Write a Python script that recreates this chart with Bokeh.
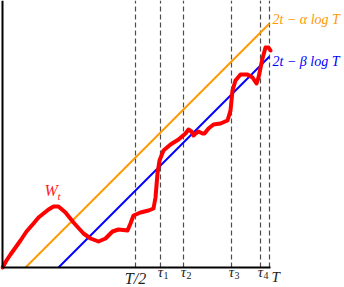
from bokeh.plotting import figure
from bokeh.models import Range1d
from bokeh.core.properties import value
from bokeh.embed import file_html
from bokeh.resources import INLINE

# ---- data (units: time axis 0..T, level axis same units) ----
T_END = 267
TOP = 267
HALF_LABEL = "T/2"
HALF_T = 133
TAU_SUBS = ["1", "2", "3", "4"]
TAU_T = [158, 181, 229, 258]
ALPHA_SHIFT = 23
BETA_SHIFT = 56

W_T = [0, 4, 8, 13, 18, 24, 31, 36, 41, 46, 51, 56, 63, 71, 81, 88, 96, 103, 110, 116, 125, 128, 131,
       138, 146, 151, 153, 155, 157, 161, 168, 176, 183, 186, 189, 191, 193, 196,
       200, 202, 206, 211, 218, 225, 228, 230, 233, 238, 245, 250, 254, 256, 260,
       263, 266, 268]
W_V = [0, 7, 13, 20, 27, 36, 44, 50, 54, 58, 61, 61, 55, 45, 34, 29, 26, 29, 36, 38, 37, 44, 52,
       55, 57, 59, 70, 94, 107, 117, 123, 128, 134, 138, 136, 132, 134, 136,
       134, 134, 139, 143, 144, 147, 157, 177, 187, 193, 193, 190, 184, 190, 209,
       220, 220, 217]

p = figure(width=344, height=287, output_backend="svg", toolbar_location=None,
           x_range=Range1d(-2, 342), y_range=Range1d(-20, 267),
           min_border=0, outline_line_color=None)
p.axis.visible = False
p.grid.visible = False
p.background_fill_color = "white"

serif = value("Liberation Serif")
ink = "#222222"

# dashed verticals
xs_d = [HALF_T] + TAU_T + [T_END]
p.segment(x0=xs_d, y0=[0] * len(xs_d), x1=xs_d, y1=[TOP] * len(xs_d),
          line_color="#4d4d4d", line_width=1.2, line_dash="5 3")

# straight lines
p.line([ALPHA_SHIFT, T_END], [0, T_END - ALPHA_SHIFT], line_color="#ff9900", line_width=2)
p.line([BETA_SHIFT, T_END], [0, T_END - BETA_SHIFT], line_color="#0000ff", line_width=2)

# process
p.line(W_T, W_V, line_color="#ff0000", line_width=4, line_join="round", line_cap="round")

# axes
p.segment(x0=[0, 0], y0=[0, 0], x1=[T_END + 1, 0], y1=[0, TOP],
          line_color="black", line_width=2)

# tick labels
p.text(x=[HALF_T], y=[-2], text=[HALF_LABEL], text_align="center", text_baseline="top",
       text_font=serif, text_font_style="italic", text_font_size="16px", text_color=ink)
p.text(x=TAU_T, y=[-4] * 4, text=["τ"] * 4, text_align="center", text_baseline="middle",
       text_font=serif, text_font_style="italic", text_font_size="15px", text_color=ink)
p.text(x=[t + 3 for t in TAU_T], y=[-8] * 4, text=TAU_SUBS, text_align="left",
       text_baseline="middle", text_font=serif, text_font_size="10px", text_color=ink)
p.text(x=[T_END + 2], y=[-1], text=["T"], text_align="left", text_baseline="top",
       text_font=serif, text_font_style="italic", text_font_size="15px", text_color=ink)

# line labels
p.text(x=[T_END + 3], y=[T_END - ALPHA_SHIFT + 4], text=["2t − α log T"], text_align="left",
       text_baseline="middle", text_font=serif, text_font_style="italic",
       text_font_size="14px", text_color="#ff9900")
p.text(x=[T_END + 3], y=[T_END - BETA_SHIFT - 5], text=["2t − β log T"], text_align="left",
       text_baseline="middle", text_font=serif, text_font_style="italic",
       text_font_size="14px", text_color="#0000ff")

# W_t label
p.text(x=[42], y=[77], text=["W"], text_align="left", text_baseline="middle",
       text_font=serif, text_font_style="italic", text_font_size="16px", text_color="#ff2222")
p.text(x=[55], y=[72], text=["t"], text_align="left", text_baseline="middle",
       text_font=serif, text_font_style="italic", text_font_size="11px", text_color="#ff2222")

open("out.html", "w").write(file_html(p, INLINE))
